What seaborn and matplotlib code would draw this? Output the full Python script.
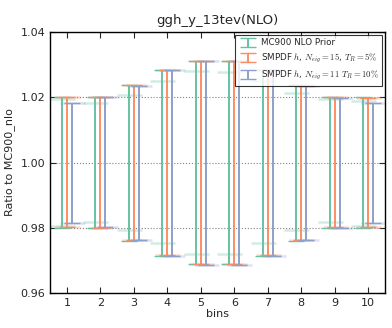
import numpy as np
import matplotlib
matplotlib.use("Agg")
import matplotlib.pyplot as plt
import seaborn as sns

bins = [1, 2, 3, 4, 5, 6, 7, 8, 9, 10]
labels = ["MC900 NLO Prior",
          r"SMPDF $h$, $N_{eig}=15$, $T_R=5\%$",
          r"SMPDF $h$, $N_{eig}=11$ $T_R=10\%$"]

# 68% CL interval (solid bars)
prior_hi = [1.0200, 1.0200, 1.0238, 1.0285, 1.0313, 1.0313, 1.0285, 1.0238, 1.0200, 1.0200]
prior_lo = [0.9800, 0.9800, 0.9760, 0.9714, 0.9688, 0.9688, 0.9714, 0.9760, 0.9800, 0.9800]
smpdf15_hi = [1.0200, 1.0200, 1.0237, 1.0284, 1.0312, 1.0312, 1.0284, 1.0237, 1.0200, 1.0198]
smpdf15_lo = [0.9801, 0.9800, 0.9761, 0.9715, 0.9688, 0.9689, 0.9715, 0.9761, 0.9801, 0.9802]
smpdf11_hi = [1.0183, 1.0200, 1.0236, 1.0283, 1.0311, 1.0312, 1.0283, 1.0236, 1.0199, 1.0184]
smpdf11_lo = [0.9815, 0.9801, 0.9762, 0.9714, 0.9686, 0.9686, 0.9714, 0.9762, 0.9800, 0.9815]

# 1-sigma interval (faint caps)
prior_sd_hi = [1.0195, 1.0182, 1.0207, 1.0250, 1.0280, 1.0278, 1.0250, 1.0213, 1.0195, 1.0190]
prior_sd_lo = [0.9805, 0.9817, 0.9792, 0.9753, 0.9720, 0.9718, 0.9753, 0.9793, 0.9818, 0.9805]

series = [
    (prior_lo, prior_hi, prior_sd_lo, prior_sd_hi),
    (smpdf15_lo, smpdf15_hi, smpdf15_lo, smpdf15_hi),
    (smpdf11_lo, smpdf11_hi, smpdf11_lo, smpdf11_hi),
]
offsets = [-0.15, 0.0, 0.15]

sns.set_style("ticks")
plt.rcParams["mathtext.fontset"] = "cm"
colors = sns.color_palette("Set2", 3)

fig = plt.figure(figsize=(3.92, 3.28), dpi=100)
ax = fig.add_axes([0.128, 0.107, 0.854, 0.795])

x = np.array(bins, dtype=float)
for (lo, hi, slo, shi), off, col, lab in zip(series, offsets, colors, labels):
    lo = np.array(lo); hi = np.array(hi)
    slo = np.array(slo); shi = np.array(shi)
    mid = (lo + hi) / 2
    ax.errorbar(x + off, mid, yerr=[mid - lo, hi - mid], fmt="none",
                ecolor=col, elinewidth=1.4, capsize=5.5, capthick=1.0,
                label=lab, zorder=3)
    smid = (slo + shi) / 2
    ax.errorbar(x + off, smid, yerr=[smid - slo, shi - smid], fmt="none",
                ecolor=col, elinewidth=0, capsize=9, capthick=1.8,
                alpha=0.3, zorder=2)

ax.set_xlim(0.5, 10.5)
ax.set_ylim(0.96, 1.04)
ax.set_xticks(bins)
ax.set_yticks([0.96, 0.98, 1.00, 1.02, 1.04])
ax.set_yticklabels(["0.96", "0.98", "1.00", "1.02", "1.04"])
ax.yaxis.grid(True, linestyle=":", color="gray", linewidth=0.8)
ax.tick_params(direction="in", top=True, right=True, labelsize=8, length=4)
for s in ax.spines.values():
    s.set_linewidth(1.0)
    s.set_color("black")

ax.set_title("ggh_y_13tev(NLO)", fontsize=9.5)
ax.set_xlabel("bins", fontsize=8, labelpad=1)
ax.set_ylabel("Ratio to MC900_nlo", fontsize=8)

leg = ax.legend(loc="upper right", fontsize=6.3, frameon=True, fancybox=False,
                handlelength=2.2, borderpad=0.4, labelspacing=0.5,
                borderaxespad=0.3, handletextpad=0.4)
leg.get_frame().set_edgecolor("black")
leg.get_frame().set_linewidth(0.8)

fig.savefig("out.png", dpi=100)
